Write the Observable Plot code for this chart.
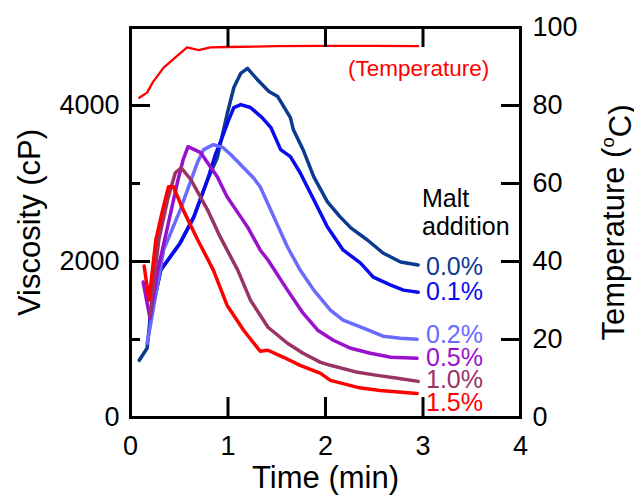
<!DOCTYPE html>
<html>
<head>
<meta charset="utf-8">
<script src="https://cdn.jsdelivr.net/npm/d3@7"></script>
<script src="https://cdn.jsdelivr.net/npm/@observablehq/plot@0.6"></script>
<style>
  html, body { margin: 0; padding: 0; background: #fff; }
</style>
</head>
<body>
<div id="chart"></div>
<script>
// ---- Data (time in min, viscosity in cP, temperature in °C) ----
const seriesNames = ["0.0%", "0.1%", "0.2%", "0.5%", "1.0%", "1.5%"];
const seriesColors = ["#0b3a8f", "#0a0af0", "#6a6aff", "#9a10cc", "#993366", "#ff0000"];

const t00 = [0.09, 0.17, 0.20, 0.31, 0.51, 0.65, 0.79, 0.89, 0.95, 0.99, 1.06, 1.13, 1.20, 1.30, 1.42, 1.51, 1.64, 1.67, 1.77, 1.88, 2.02, 2.15, 2.26, 2.43, 2.59, 2.77, 2.95];
const v00 = [733, 887, 1250, 1890, 2238, 2572, 3048, 3331, 3665, 3884, 4231, 4411, 4475, 4334, 4180, 4115, 3845, 3691, 3434, 3086, 2765, 2572, 2431, 2276, 2109, 1993, 1955];

const t01 = [0.20, 0.31, 0.51, 0.65, 0.79, 0.87, 0.94, 1.00, 1.06, 1.13, 1.23, 1.35, 1.44, 1.54, 1.64, 1.74, 1.88, 2.02, 2.18, 2.36, 2.49, 2.67, 2.80, 2.95];
const v01 = [1250, 1890, 2238, 2572, 3048, 3369, 3588, 3794, 3974, 4012, 3974, 3845, 3717, 3434, 3344, 3138, 2791, 2443, 2148, 1980, 1800, 1698, 1633, 1607];

const t02 = [0.17, 0.20, 0.34, 0.51, 0.69, 0.75, 0.85, 0.95, 1.03, 1.16, 1.26, 1.33, 1.47, 1.61, 1.74, 1.88, 2.05, 2.18, 2.39, 2.59, 2.77, 2.94];
const v02 = [950, 1150, 2148, 2662, 3280, 3434, 3498, 3459, 3369, 3202, 3074, 2958, 2572, 2186, 1890, 1633, 1376, 1247, 1145, 1042, 1016, 1003];

const t05 = [0.13, 0.20, 0.28, 0.38, 0.48, 0.54, 0.59, 0.72, 0.89, 0.99, 1.13, 1.20, 1.33, 1.41, 1.61, 1.77, 1.92, 2.08, 2.26, 2.46, 2.67, 2.94];
const v05 = [1736, 1273, 1890, 2443, 3009, 3305, 3472, 3395, 3086, 2829, 2572, 2443, 2148, 2019, 1633, 1337, 1119, 990, 887, 823, 772, 759];

const t10 = [0.20, 0.29, 0.38, 0.46, 0.52, 0.62, 0.79, 0.92, 1.10, 1.23, 1.41, 1.61, 1.77, 1.95, 2.05, 2.33, 2.53, 2.74, 2.95];
const v10 = [1300, 2276, 2791, 3138, 3202, 3048, 2662, 2315, 1890, 1505, 1157, 952, 823, 707, 669, 579, 540, 502, 463];

const t15 = [0.14, 0.19, 0.26, 0.33, 0.39, 0.44, 0.54, 0.69, 0.85, 0.99, 1.16, 1.33, 1.41, 1.57, 1.74, 1.95, 2.05, 2.33, 2.56, 2.94];
const v15 = [1942, 1505, 2276, 2662, 2958, 2958, 2662, 2276, 1890, 1440, 1119, 849, 862, 772, 669, 566, 476, 386, 347, 309];

const tTemp = [0.09, 0.17, 0.23, 0.34, 0.49, 0.58, 0.70, 0.82, 1.0, 1.5, 2.0, 2.5, 2.95];
const temp  = [82, 83.3, 86, 89.7, 93, 94.9, 94.2, 94.9, 95, 95.2, 95.3, 95.3, 95.2];

// label anchor values (viscosity units) for the end labels
const labelValues = [1929, 1607, 1054, 759, 476, 180];

// axis ticks
const xTickLabels = [0, 1, 2, 3, 4];
const xInnerTicks = [1, 2, 3];
const yMajorTicks = [0, 2000, 4000];
const yMinorTicks = [1000, 3000];
const tempTicks = [0, 20, 40, 60, 80, 100];
const tempInnerTicks = [20, 40, 60, 80];
const TEMP_FACTOR = 50; // 100 °C <-> 5000 cP

// ---- Build tables ----
const tArrays = [t00, t01, t02, t05, t10, t15];
const vArrays = [v00, v01, v02, v05, v10, v15];
const visc = [];
tArrays.forEach((ts, i) => ts.forEach((t, j) => visc.push({series: seriesNames[i], t, v: vArrays[i][j]})));
const tempData = tTemp.map((t, i) => ({t, v: temp[i] * TEMP_FACTOR}));
const labels = seriesNames.map((s, i) => ({series: s, t: 3, v: labelValues[i], color: seriesColors[i]}));

const font = "'Liberation Sans', Arial, Helvetica, sans-serif";
const W = 634, H = 495, ML = 130, MR = 114, MT = 27, MB = 78;
const FW = W - ML - MR, FH = H - MT - MB;

const chart = Plot.plot({
  width: W,
  height: H,
  marginLeft: ML,
  marginRight: MR,
  marginTop: MT,
  marginBottom: MB,
  style: {fontFamily: font, background: "#fff", color: "#000"},
  x: {domain: [0, 4]},
  y: {domain: [0, 5000]},
  color: {domain: seriesNames, range: seriesColors},
  marks: [
    Plot.line(tempData, {x: "t", y: "v", stroke: "#ff0000", strokeWidth: 2.3, curve: "linear"}),
    Plot.line(visc, {x: "t", y: "v", z: "series", stroke: "series", strokeWidth: 3.5, strokeLinejoin: "round", strokeLinecap: "round"}),
    Plot.frame({strokeWidth: 3}),
    // inward ticks
    Plot.tickX(xInnerTicks, {x: d => d, insetTop: FH - 20, strokeWidth: 3, stroke: "#000"}),
    Plot.tickX(xInnerTicks, {x: d => d, insetBottom: FH - 20, strokeWidth: 3, stroke: "#000"}),
    Plot.tickY(yMajorTicks.filter(d => d > 0), {y: d => d, insetRight: FW - 20, strokeWidth: 3, stroke: "#000"}),
    Plot.tickY(yMinorTicks, {y: d => d, insetRight: FW - 10, strokeWidth: 3, stroke: "#000"}),
    Plot.tickY(tempInnerTicks, {y: d => d * TEMP_FACTOR, insetLeft: FW - 19, strokeWidth: 3, stroke: "#000"}),
    // tick labels
    Plot.axisX({anchor: "bottom", ticks: xTickLabels, tickSize: 0, tickPadding: 18, fontSize: 27, tickFormat: d => String(d), label: null}),
    Plot.axisY({anchor: "left", ticks: yMajorTicks, tickSize: 0, tickPadding: 11, fontSize: 27, tickFormat: d => String(d), label: null}),
    Plot.axisY({anchor: "right", ticks: tempTicks.map(d => d * TEMP_FACTOR), tickSize: 0, tickPadding: 12, fontSize: 27, tickFormat: d => String(d / TEMP_FACTOR), label: null}),
    // axis titles
    Plot.text(["Time (min)"], {frameAnchor: "bottom", dy: 61, fontSize: 31, fill: "#000", textAnchor: "middle", lineAnchor: "middle"}),
    Plot.text(["Viscosity (cP)"], {frameAnchor: "left", rotate: -90, dx: -100, fontSize: 31, fill: "#000", textAnchor: "middle", lineAnchor: "middle"}),
    Plot.text(["Temperature (oC)"], {frameAnchor: "right", rotate: -90, dx: 94, fontSize: 31, fill: "#000", textAnchor: "middle", lineAnchor: "middle"}),
    // annotations
    Plot.text(["(Temperature)"], {x: [2.23], y: [4475], textAnchor: "start", fontSize: 22.5, fill: "#ff0000"}),
    Plot.text(["Malt\naddition"], {x: [2.99], y: [2636], textAnchor: "start", fontSize: 25, lineHeight: 1.12, fill: "#000"}),
    Plot.text(labels, {x: "t", y: "v", text: "series", fill: "color", textAnchor: "start", dx: 3, fontSize: 25})
  ]
});

document.getElementById("chart").appendChild(chart);

// superscript "o" in the temperature title
d3.select(chart).selectAll("text").each(function() {
  const el = d3.select(this);
  if (el.text() === "Temperature (oC)") {
    el.text("Temperature (");
    el.append("tspan").attr("font-size", "60%").attr("dy", "-0.55em").text("o");
    el.append("tspan").attr("dy", "0.55em").text("C)");
  }
});
</script>
</body>
</html>
